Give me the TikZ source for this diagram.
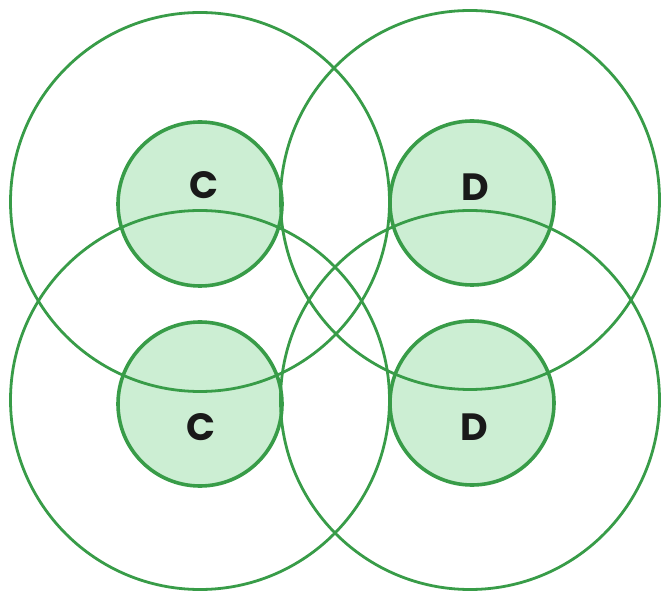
\documentclass[tikz,border=0pt]{standalone}
\usepackage{fontspec}
\setmainfont{Poppins}
\definecolor{ringgreen}{RGB}{56,156,72}
\definecolor{fillgreen}{RGB}{204,238,211}
\begin{document}
\begin{tikzpicture}[x=1pt,y=-1pt,
  bigring/.style={circle, draw=ringgreen, line width=2.8pt, minimum size=379pt, inner sep=0pt},
  smallring/.style={circle, draw=ringgreen, line width=3.6pt, minimum size=164pt, inner sep=0pt},
  smallfill/.style={circle, fill=fillgreen, minimum size=164pt, inner sep=0pt},
  lbl/.style={font=\fontsize{38}{38}\selectfont\bfseries, text=black!90}]
\useasboundingbox (0,0) rectangle (662,596);
% fills
\node[smallfill] (f1) at (200,204) {};
\node[smallfill] (f2) at (472,203) {};
\node[smallfill] (f3) at (200,404) {};
\node[smallfill] (f4) at (472,403) {};
% large circles
\node[bigring] (tl) at (200,202) {};
\node[bigring] (tr) at (470,200) {};
\node[bigring] (bl) at (200,400) {};
\node[bigring] (br) at (470,400) {};
% small circles
\node[smallring] (s1) at (200,204) {};
\node[smallring] (s2) at (472,203) {};
\node[smallring] (s3) at (200,404) {};
\node[smallring] (s4) at (472,403) {};
% labels
\node[lbl] (l1) at (204,185) {C};
\node[lbl] (l2) at (475,187) {D};
\node[lbl] (l3) at (201,427) {C};
\node[lbl] (l4) at (474,427) {D};
\end{tikzpicture}
\end{document}
